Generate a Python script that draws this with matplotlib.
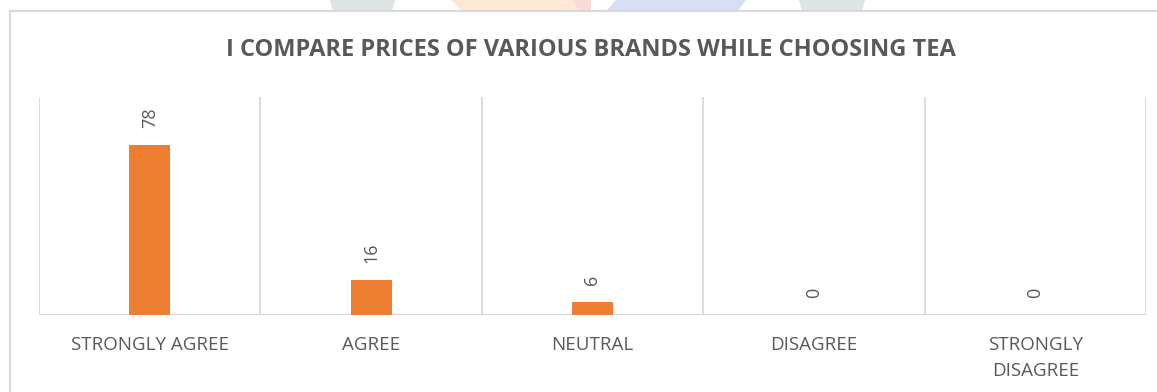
import matplotlib
matplotlib.use("Agg")
import matplotlib.pyplot as plt
from matplotlib.patches import Polygon, Rectangle

# Survey responses
categories = ["STRONGLY AGREE", "AGREE", "NEUTRAL", "DISAGREE", "STRONGLY\nDISAGREE"]
values = [78, 16, 6, 0, 0]
title = "I COMPARE PRICES OF VARIOUS BRANDS WHILE CHOOSING TEA"

BAR = "#ED7D31"
TXT = "#595959"
GRID = "#D9D9D9"

W, H = 1157, 392
fig = plt.figure(figsize=(W / 100, H / 100), dpi=100)
fig.patch.set_facecolor("white")


def px(x, y):
    return (x / W, 1 - y / H)


# faint page watermark shapes peeking above the chart frame
marks = [
    ([(330, 0), (395, 0), (392, 11), (333, 11)], "#DEE3E5"),
    ([(451, 0), (591, 0), (591, 11), (462, 11)], "#FDE8D6"),
    ([(572, 0), (591, 0), (591, 11), (580, 11)], "#FDDADA"),
    ([(616, 0), (746, 0), (738, 11), (606, 11)], "#D7DFF5"),
    ([(799, 0), (865, 0), (862, 11), (802, 11)], "#DEE3E5"),
]
for pts, col in marks:
    fig.patches.append(Polygon([px(*p) for p in pts], closed=True,
                               transform=fig.transFigure, facecolor=col,
                               edgecolor="none", zorder=0))

# chart frame
x0, y0 = px(10, 11)
fig.patches.append(Rectangle((x0, -0.1), 1.2, y0 + 0.1, transform=fig.transFigure,
                             facecolor="white", edgecolor=GRID, linewidth=1.5,
                             zorder=1))

left, right, top, bottom = 39, 1146, 97, 315
ax = fig.add_axes([left / W, 1 - bottom / H, (right - left) / W, (bottom - top) / H])
ax.set_zorder(2)
ax.patch.set_alpha(0)

xpos = list(range(len(categories)))
ax.bar(xpos, values, width=0.185, color=BAR, zorder=3)
ax.set_xlim(-0.5, len(categories) - 0.5)
ax.set_ylim(0, 100)

for b in [i - 0.5 for i in range(len(categories) + 1)]:
    ax.axvline(b, color=GRID, linewidth=1.3, zorder=1)
ax.axhline(0, color=GRID, linewidth=1.6, zorder=2)

for s in ax.spines.values():
    s.set_visible(False)
ax.set_yticks([])
ax.set_xticks(xpos)
ax.set_xticklabels(categories, fontsize=13.5, color=TXT, family="Open Sans",
                   linespacing=1.6, va="top")
ax.tick_params(axis="x", length=0, pad=15)

for x, v in zip(xpos, values):
    ax.annotate(str(v), (x, v), xytext=(0, 12), textcoords="offset points",
                rotation=90, ha="center", va="bottom", fontsize=13,
                color=TXT, family="Open Sans")

tx, ty = px(591, 50)
fig.text(tx, ty, title, ha="center", va="center", fontsize=17,
         fontweight="bold", color=TXT, family="Open Sans")

fig.savefig("out.png", dpi=100, facecolor="white")
